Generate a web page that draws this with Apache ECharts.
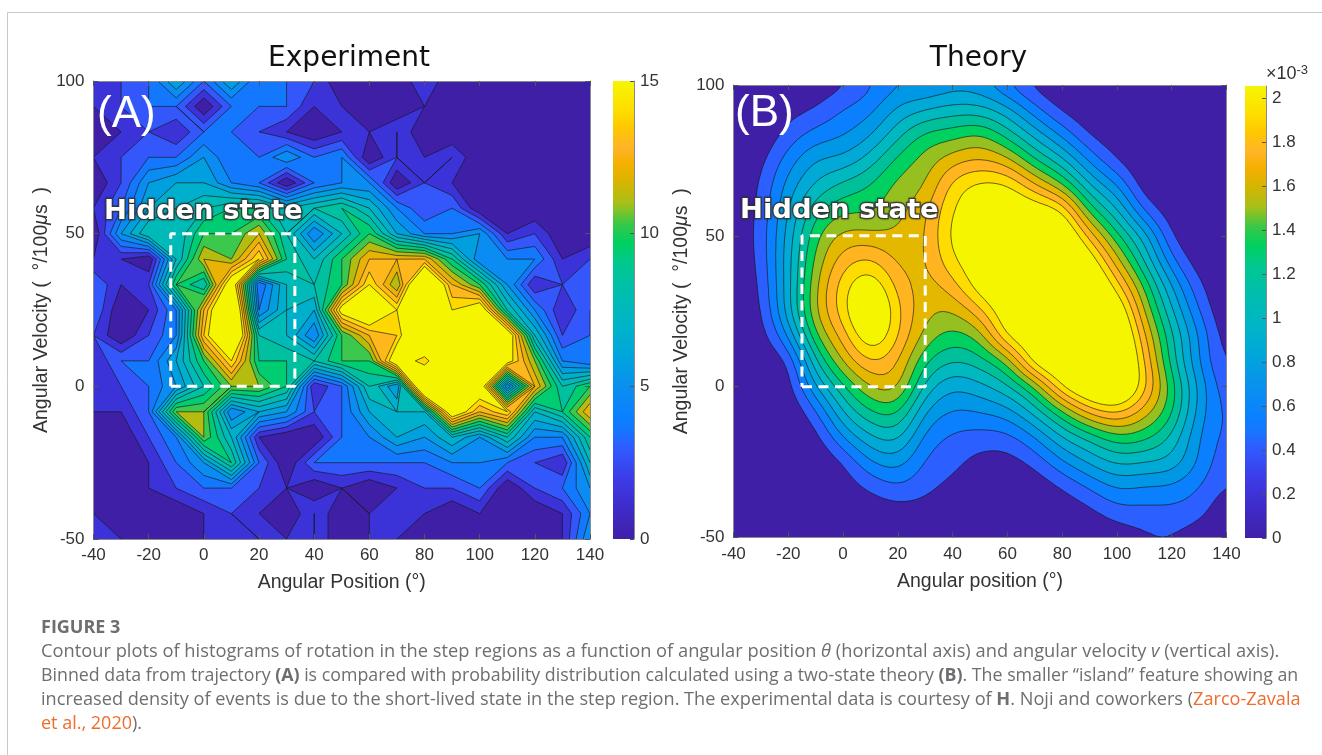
<!DOCTYPE html>
<html>
<head>
<meta charset="utf-8">
<style>
  html, body { margin: 0; padding: 0; background: #fff; }
  #chart { width: 1322px; height: 755px; }
</style>
<script src="https://cdn.jsdelivr.net/npm/echarts@6/dist/echarts.min.js"></script>
</head>
<body>
<div id="chart"></div>
<script>
// bin centres, both panels use the same 19 x 19 mesh
const xBins = [-40,-30,-20,-10,0,10,20,30,40,50,60,70,80,90,100,110,120,130,140];
const yBins = [100,91.67,83.33,75,66.67,58.33,50,41.67,33.33,25,16.67,8.33,0,-8.33,-16.67,-25,-33.33,-41.67,-50];

// panel A: counts per bin, row by row from the top
const expCounts = [
  [1,2,3,6,3,6,3,3,2,0,0,0,2,0,0,0,0,0,0],
  [1,2,3,3,0,3,3,3,1,1,0,0,1,0,0,0,0,0,0],
  [0,1,2,1,3,3,2,1,0,1,1,2,0,0,0,0,0,0,0],
  [1,2,3,3,5,3,3,5,3,4,0,2,1,2,0,0,0,0,0],
  [0,2,5,6,6,4,3,0,3,4,4,0,2,1,0,0,0,0,0],
  [1,3,6,7,8,9,9,7,8,9,7,4,2,3,0,0,0,0,0],
  [0,5,8,7,10,10,12,8,4,7,10,6,4,4,5,1,2,0,0],
  [1,1,0,7,12,11,15,9,7,10,13,13,13,9,4,4,4,1,2],
  [3,1,2,10,8,17,3,7,8,10,15,11,20,13,10,5,1,2,2],
  [3,0,1,4,13,20,4,7,6,16,18,15,20,15,17,8,4,1,3],
  [2,0,2,4,14,20,8,7,4,10,13,14,20,20,20,17,7,2,3],
  [1,3,3,6,10,15,9,9,8,10,10,17,14,20,20,16,11,4,3],
  [1,2,3,5,8,11,11,9,1,3,8,5,20,20,17,4,13,8,10],
  [1,1,3,11,11,4,6,5,2,3,6,7,7,17,13,15,7,9,13],
  [0,0,2,4,11,7,1,0,0,3,4,6,5,7,5,8,4,4,9],
  [0,0,1,3,5,9,3,0,3,3,3,3,3,4,4,3,2,1,7],
  [0,0,1,2,3,3,2,1,0,1,0,1,2,2,3,0,2,3,5],
  [1,0,0,0,1,2,1,0,2,0,1,1,1,0,1,0,0,1,4],
  [1,1,0,0,1,1,2,1,2,0,1,1,0,0,0,0,0,1,5]
];

// panel B: density, in contour steps of 0.16e-3
const theorySteps = [
  [0,0,.05,.35,.85,1.85,2.9,3,3.5,3.3,2,.7,.1,0,0,0,0,0,0],
  [0,.02,.6,1.1,2.05,2.74,4.25,5,5.5,5.45,4.35,2.4,.85,.2,.02,0,0,0,0],
  [0,.2,1.4,2.45,2.96,3.93,5.75,7.25,7.6,8.1,6.65,4.7,2.8,.95,.3,0,0,0,0],
  [0,.7,2.5,4,4.35,5.55,7.3,8.4,9.6,10.1,9.35,7.15,5.3,2.8,1,.05,0,0,0],
  [.05,1.1,3.4,5.2,6.3,7.05,8.3,9,11.3,12.3,12.1,10.2,8.2,5.1,3.05,.4,.05,0,0],
  [.1,1.3,4,6.65,7.8,7.9,8.75,9.75,12,13,13.5,13,12,7.65,5.2,1.9,.35,0,0],
  [.15,1.4,4.4,7.7,9.3,9.3,9.2,9.95,12.3,13.2,14,14.5,14,10.6,7.3,4.5,1,.1,0],
  [.1,1.3,4.6,8.3,10.5,11.2,9.8,9.9,11.8,13,14,15,15,13,9.4,6,2.3,.4,0],
  [.05,1.1,4.6,8.8,11.5,13,10.6,9.6,10.55,12.7,13.8,15,15.5,14.5,11.5,7.8,4,1.2,0],
  [0,.85,4.5,8.9,11.5,14,11.2,9.3,9,10.7,13.2,14.5,15.5,15.3,13.5,9,5.2,2,.1],
  [0,.5,3,7.8,10.4,13,11,8.6,7.6,8.45,12.1,13.5,15,15.5,14.5,10.2,6.2,2.9,.4],
  [0,.2,1,5.8,9,11,10.05,7.15,6,6.55,8.3,12.6,14,15,15,11,6.6,3,.8],
  [0,.05,.5,3.9,6.8,9,9.2,5.65,4.2,4.7,5.8,8.1,12,14,14.5,11.3,7.5,3.7,1.3],
  [0,0,.1,1.8,5,6.9,7.2,4,2.9,3.05,3.6,5.4,7.85,10.3,11.2,9.5,7.2,3.5,1.7],
  [0,0,0,.6,3,4.85,5.3,2.7,1.85,1.6,1.7,3,5,6.4,7.7,7.3,5.8,3,1.7],
  [0,0,0,.1,1,2.9,3.45,1.85,1.3,.65,.6,1.3,2.85,4.15,5.2,5,4.6,2.8,1.3],
  [0,0,0,0,.4,1.2,1.85,1.25,.7,.2,.15,.3,1.05,2.1,3.1,2.9,2.8,2,.9],
  [0,0,0,0,.1,.3,.5,.5,.2,.05,0,.05,.25,.7,1.55,1.65,1.7,1.3,.2],
  [0,0,0,0,0,0,.05,.1,0,0,0,0,0,.05,.3,.8,.9,.4,0]
];

const expLevels = [0,1,2,3,4,5,6,7,8,9,10,11,12,13,14,15];
const expColors = ['#3F1FA5','#3B32D8','#3357FA','#1478FF','#0A8CF2','#00A0DE','#00AFCC','#00BAB8','#00C0A0','#00CC72','#3CC84C','#B4BC10','#E8B206','#FFB81C','#FFD800','#F5F500'];
const theoryLevels = [0,1,2,3,4,5,6,7,8,9,10,11,12];
const theoryColors = ['#3F1FA5','#2B5FFF','#0B80FF','#0098E6','#00A9D6','#00B8C0','#00C09A','#00D060','#95C020','#E5B800','#FFB420','#FFDC00','#F5F500'];

const barStops = [[0,'#4020A8'],[1,'#3F2BC8'],[2,'#3C3CE8'],[3,'#2F5CFF'],[3.6,'#1478FF'],[4,'#0A80FF'],[5,'#0A90EE'],[6,'#00A5DC'],[7,'#00B4C8'],[8,'#00BDB0'],[9,'#00C890'],[9.7,'#00D060'],[10.3,'#35C848'],[11,'#A8C018'],[11.7,'#D8B400'],[12.3,'#F5B000'],[12.8,'#FFB428'],[13.5,'#FFC800'],[14,'#FFDC00'],[15,'#F5F500']];
const hiddenBoxA = [[-12,0],[33,0],[33,50],[-12,50],[-12,0]];
const hiddenBoxB = [[-15,0],[30,0],[30,50],[-15,50],[-15,0]];

// catmull-rom plus a light blur, only to get the smooth outlines of panel B from its mesh
function cr(a, b, c, d, t) {
  return 0.5 * (2 * b + (c - a) * t + (2 * a - 5 * b + 4 * c - d) * t * t + (3 * b - a - 3 * c + d) * t * t * t);
}
function boxBlur(z, r) {
  const h = z.length, w = z[0].length;
  const pass = (get, n, m) => {
    const out = [];
    for (let a = 0; a < n; a++) {
      const row = [];
      for (let b = 0; b < m; b++) {
        let s = 0;
        for (let k = -r; k <= r; k++) s += get(a, Math.max(0, Math.min(m - 1, b + k)));
        row.push(s / (2 * r + 1));
      }
      out.push(row);
    }
    return out;
  };
  const horiz = pass((a, b) => z[a][b], h, w);
  const vert = pass((a, b) => horiz[b][a], w, h);
  return horiz.map((row, j) => row.map((v, i) => vert[i][j]));
}
function refine(xs, ys, z, n, r) {
  const at = (j, i) => z[Math.max(0, Math.min(ys.length - 1, j))][Math.max(0, Math.min(xs.length - 1, i))];
  const nx = [], ny = [];
  let nz = [];
  for (let i = 0; i < (xs.length - 1) * n + 1; i++) nx.push(xs[0] + (xs[xs.length - 1] - xs[0]) * i / ((xs.length - 1) * n));
  for (let j = 0; j < (ys.length - 1) * n + 1; j++) ny.push(ys[0] + (ys[ys.length - 1] - ys[0]) * j / ((ys.length - 1) * n));
  for (let j = 0; j < ny.length; j++) {
    const row = [], j0 = Math.floor(j / n), tj = j / n - j0;
    for (let i = 0; i < nx.length; i++) {
      const i0 = Math.floor(i / n), ti = i / n - i0, col = [];
      for (let k = -1; k <= 2; k++) {
        col.push(cr(at(j0 + k, i0 - 1), at(j0 + k, i0), at(j0 + k, i0 + 1), at(j0 + k, i0 + 2), ti));
      }
      row.push(cr(col[0], col[1], col[2], col[3], tj));
    }
    nz.push(row);
  }
  nz = boxBlur(boxBlur(nz, r), r);
  return {xs: nx, ys: ny, z: nz};
}

// clips every mesh cell to z >= level, gives fill polygons and contour segments
function contourBand(mesh, level, bottom) {
  const polys = [], segs = [];
  for (let j = 0; j < mesh.ys.length - 1; j++) {
    for (let i = 0; i < mesh.xs.length - 1; i++) {
      const c = [[i, j], [i + 1, j], [i + 1, j + 1], [i, j + 1]].map(p => [mesh.xs[p[0]], mesh.ys[p[1]], mesh.z[p[1]][p[0]]]);
      const poly = [], cross = [];
      for (let k = 0; k < 4; k++) {
        const a = c[k], b = c[(k + 1) % 4];
        const ina = bottom || a[2] >= level, inb = bottom || b[2] >= level;
        if (ina) poly.push([a[0], a[1]]);
        if (ina !== inb) {
          const t = (level - a[2]) / (b[2] - a[2]);
          const p = [a[0] + (b[0] - a[0]) * t, a[1] + (b[1] - a[1]) * t];
          poly.push(p);
          cross.push({p, out: ina});
        }
      }
      if (poly.length > 2) polys.push(poly);
      if (cross.length) {
        const s = cross.findIndex(q => q.out);
        for (let k = 0; k < cross.length; k += 2) {
          segs.push([cross[(s + k) % cross.length].p, cross[(s + k + 1) % cross.length].p]);
        }
      }
    }
  }
  return {polys, segs};
}

function contourSeries(mesh, levels, colors, xIdx, yIdx) {
  const bands = levels.map((l, i) => contourBand(mesh, l, i === 0));
  const items = levels.map((l, i) => [i]).concat([[levels.length]]);
  return {
    type: 'custom',
    xAxisIndex: xIdx,
    yAxisIndex: yIdx,
    coordinateSystem: 'cartesian2d',
    silent: true,
    clip: true,
    z: 1,
    encode: {x: -1, y: -1},
    data: items,
    renderItem(params, api) {
      const n = params.dataIndex;
      const pt = p => {
        const q = api.coord(p);
        return q[0].toFixed(1) + ' ' + q[1].toFixed(1);
      };
      if (n < levels.length) {
        const d = bands[n].polys.map(poly => 'M' + poly.map(pt).join('L') + 'Z').join('');
        return {type: 'path', shape: {pathData: d || 'M0 0'}, style: {fill: colors[n]}};
      }
      let d = '';
      bands.forEach((b, k) => {
        if (k > 0) d += b.segs.map(s => 'M' + pt(s[0]) + 'L' + pt(s[1])).join('');
      });
      return {type: 'path', shape: {pathData: d || 'M0 0'}, style: {fill: null, stroke: '#161616', lineWidth: 0.8, opacity: 0.8}};
    }
  };
}

function colorBarSeries(stops, vMax, xIdx, yIdx) {
  return {
    type: 'custom',
    xAxisIndex: xIdx,
    yAxisIndex: yIdx,
    silent: true,
    z: 1,
    encode: {x: -1, y: -1},
    data: [[0]],
    renderItem(params, api) {
      const a = api.coord([0, 0]), b = api.coord([1, vMax]);
      return {
        type: 'rect',
        shape: {x: a[0], y: b[1], width: b[0] - a[0], height: a[1] - b[1]},
        style: {fill: new echarts.graphic.LinearGradient(0, 1, 0, 0, stops.map(s => ({offset: s[0], color: s[1]})))}
      };
    }
  };
}

function boxSeries(points, xIdx, yIdx) {
  return {
    type: 'line',
    xAxisIndex: xIdx,
    yAxisIndex: yIdx,
    data: points,
    symbol: 'none',
    silent: true,
    clip: false,
    z: 4,
    animation: false,
    lineStyle: {color: '#fff', width: 3, type: [10, 6.5]}
  };
}

const tickFont = {color: '#333', fontSize: 17, fontFamily: 'Liberation Sans'};
const nameFont = {color: '#333', fontSize: 19.5, fontFamily: 'Liberation Sans'};
const boxLine = {show: true, onZero: false, lineStyle: {color: '#8a8a8a', width: 1}};
const inTick = {show: true, inside: true, length: 5, lineStyle: {color: '#555', width: 1}};

function plotX(gridIndex, name) {
  return [{
    gridIndex, type: 'value', min: -40, max: 140, interval: 20, position: 'bottom', z: 5,
    name, nameLocation: 'middle', nameGap: 34, nameTextStyle: nameFont,
    axisLine: boxLine, axisTick: inTick, axisLabel: Object.assign({margin: 8}, tickFont), splitLine: {show: false}
  }, {
    gridIndex, type: 'value', min: -40, max: 140, interval: 20, position: 'top', z: 5,
    axisLine: boxLine, axisTick: inTick, axisLabel: {show: false}, splitLine: {show: false}
  }];
}
function plotY(gridIndex, nameGap) {
  return [{
    gridIndex, type: 'value', min: -50, max: 100, interval: 50, position: 'left', z: 5,
    name: 'Angular Velocity (  °/100{m|μ}s  )', nameLocation: 'middle', nameGap,
    nameTextStyle: Object.assign({rich: {m: {fontSize: 19.5, fontStyle: 'italic', fontFamily: 'Liberation Sans', color: '#333'}}}, nameFont),
    axisLine: boxLine, axisTick: inTick, axisLabel: Object.assign({margin: 9}, tickFont), splitLine: {show: false}
  }, {
    gridIndex, type: 'value', min: -50, max: 100, interval: 50, position: 'right', z: 5,
    axisLine: boxLine, axisTick: inTick, axisLabel: {show: false}, splitLine: {show: false}
  }];
}
function barX(gridIndex) {
  return {gridIndex, type: 'value', min: 0, max: 1, show: false};
}
function barY(gridIndex, max, interval) {
  return {
    gridIndex, type: 'value', min: 0, max, interval, position: 'right', z: 5,
    axisLine: boxLine, axisTick: {show: true, inside: true, length: 4, lineStyle: {color: '#555', width: 1}},
    axisLabel: Object.assign({margin: 6, showMaxLabel: max === 15}, tickFont), splitLine: {show: false}
  };
}

const captionFont = 'Open Sans';
const captionColor = '#6d6e71';
function captionLine(y, text, size) {
  return {
    type: 'text', z: 100, x: 41, y,
    style: {
      text, fontFamily: captionFont, fontSize: size, fill: captionColor, verticalAlign: 'middle',
      rich: {
        i: {fontStyle: 'italic', fontFamily: captionFont, fontSize: size, fill: captionColor},
        b: {fontWeight: 'bold', fontFamily: captionFont, fontSize: size, fill: captionColor},
        o: {fontFamily: captionFont, fontSize: size, fill: '#ee6c2c'}
      }
    }
  };
}
function overlayText(x, y, text, style) {
  return {type: 'text', z: 100, x, y, style: Object.assign({text, fill: '#fff', verticalAlign: 'middle'}, style)};
}
const hiddenStyle = {
  fontFamily: 'DejaVu Sans', fontWeight: 'bold', fontSize: 27.4,
  stroke: 'rgba(60,60,60,0.85)', lineWidth: 2.5, textShadowColor: 'rgba(0,0,0,0.5)', textShadowBlur: 2
};

const option = {
  animation: false,
  backgroundColor: '#fff',
  title: [
    {text: 'Experiment', left: 344, top: 54, textAlign: 'center', textVerticalAlign: 'middle', textStyle: {fontFamily: 'DejaVu Sans', fontWeight: 'normal', fontSize: 28, color: '#111'}},
    {text: 'Theory', left: 973.5, top: 54, textAlign: 'center', textVerticalAlign: 'middle', textStyle: {fontFamily: 'DejaVu Sans', fontWeight: 'normal', fontSize: 28, color: '#111'}}
  ],
  grid: [
    {left: 93.5, top: 81, width: 496.5, height: 458},
    {left: 613, top: 81, width: 21, height: 458},
    {left: 733.5, top: 85, width: 493, height: 452.5},
    {left: 1245, top: 86, width: 21, height: 452}
  ],
  xAxis: [...plotX(0, 'Angular Position (°)'), barX(1), ...plotX(2, 'Angular position (°)'), barX(3)],
  yAxis: [...plotY(0, 42), barY(1, 15, 5), ...plotY(2, 42), barY(3, 2.055, 0.2)],
  series: [
    contourSeries({xs: xBins, ys: yBins, z: expCounts}, expLevels, expColors, 0, 0),
    boxSeries(hiddenBoxA, 0, 0),
    colorBarSeries(barStops.map(s => [s[0] / 15, s[1]]), 15, 2, 2),
    contourSeries(refine(xBins, yBins, theorySteps, 6, 2), theoryLevels, theoryColors, 3, 3),
    boxSeries(hiddenBoxB, 3, 3),
    colorBarSeries(barStops.map(s => [s[0] / 15, s[1]]), 2.055, 5, 5)
  ],
  graphic: [
    {type: 'line', z: 100, shape: {x1: 7.5, y1: 12.5, x2: 1322, y2: 12.5}, style: {stroke: '#c9c9c9', lineWidth: 1}},
    {type: 'line', z: 100, shape: {x1: 7.5, y1: 12.5, x2: 7.5, y2: 755}, style: {stroke: '#c9c9c9', lineWidth: 1}},
    overlayText(97, 115, '(A)', {fontFamily: 'Liberation Sans', fontSize: 44}),
    overlayText(735, 114, '(B)', {fontFamily: 'Liberation Sans', fontSize: 44}),
    overlayText(104, 212, 'Hidden state', hiddenStyle),
    overlayText(740, 211, 'Hidden state', hiddenStyle),
    {
      type: 'text', z: 100, x: 1266, y: 74,
      style: {
        text: '×10{s|-3}', fontFamily: 'Liberation Sans', fontSize: 18, fill: '#333', verticalAlign: 'middle',
        rich: {s: {fontSize: 13, verticalAlign: 'top', padding: [0, 0, 8, 0], fill: '#333', fontFamily: 'Liberation Sans'}}
      }
    },
    captionLine(628, '{b|FIGURE 3}', 18),
    captionLine(652, 'Contour plots of histograms of rotation in the step regions as a function of angular position {i|θ} (horizontal axis) and angular velocity {i|v} (vertical axis).', 18.3),
    captionLine(676, 'Binned data from trajectory {b|(A)} is compared with probability distribution calculated using a two-state theory {b|(B)}. The smaller “island” feature showing an', 17.8),
    captionLine(700, 'increased density of events is due to the short-lived state in the step region. The experimental data is courtesy of {b|H}. Noji and coworkers ({o|Zarco-Zavala}', 18.15),
    captionLine(724, '{o|et al., 2020}).', 18)
  ]
};

const chart = echarts.init(document.getElementById('chart'), null, {renderer: 'canvas'});
chart.setOption(option);
</script>
</body>
</html>
